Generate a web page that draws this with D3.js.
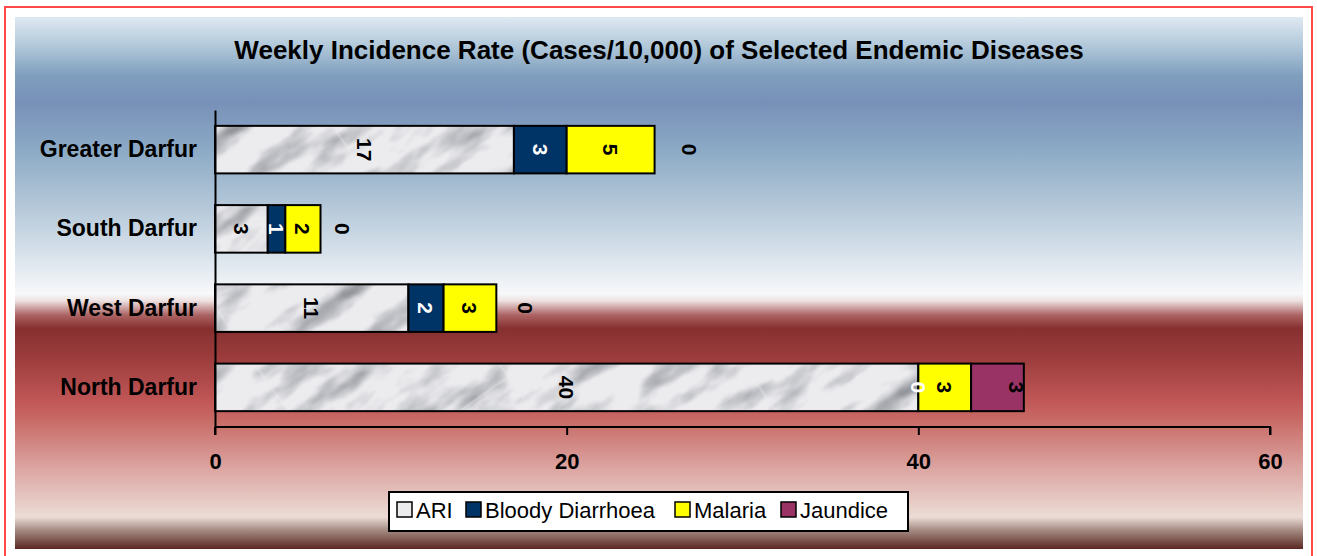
<!DOCTYPE html>
<html><head><meta charset="utf-8">
<script src="https://cdn.jsdelivr.net/npm/d3@7"></script>
<style>html,body{margin:0;padding:0;background:#fff;}svg{display:block;font-family:Arial,"Liberation Sans",sans-serif;}</style>
</head><body>
<svg id="chart" width="1317" height="556"></svg>
<script>
const categories = ["Greater Darfur", "South Darfur", "West Darfur", "North Darfur"];
const seriesNames = ["ARI", "Bloody Diarrhoea", "Malaria", "Jaundice"];
const ariValues = [17, 3, 11, 40];
const bloodyDiarrhoeaValues = [3, 1, 2, 0];
const malariaValues = [5, 2, 3, 3];
const jaundiceValues = [0, 0, 0, 3];
const xTicks = [0, 20, 40, 60];
const title = "Weekly Incidence Rate (Cases/10,000) of Selected Endemic Diseases";

const seriesColors = ["#ececef", "#003366", "#ffff00", "#993366"];
const labelColors = ["#000", "#fff", "#000", "#000"];
const allValues = [ariValues, bloodyDiarrhoeaValues, malariaValues, jaundiceValues];

const svg = d3.select("#chart");
const defs = svg.append("defs");

// background gradient
const grad = defs.append("linearGradient").attr("id","bg").attr("x1",0).attr("y1",0).attr("x2",0).attr("y2",1);
[[0,"#dfe9f2"],[0.053,"#b2c9da"],[0.11,"#7f9fbe"],[0.16,"#7890b8"],[0.25,"#8caac6"],[0.35,"#b2c6d8"],[0.44,"#d6e0ea"],[0.52,"#f7f8fa"],[0.533,"#eee2e2"],[0.56,"#ad6464"],[0.585,"#863030"],[0.64,"#9c3c3c"],[0.72,"#c05656"],[0.757,"#c86a66"],[0.85,"#dca6a2"],[0.94,"#ecdcd6"],[0.963,"#a89088"],[1,"#5a2820"]]
  .forEach(([o,c]) => grad.append("stop").attr("offset",o).attr("stop-color",c));

// marble texture: streaky noise in a rotated pattern tile
const f = defs.append("filter").attr("id","marbleF").attr("x",0).attr("y",0).attr("width",1).attr("height",1)
  .attr("color-interpolation-filters","sRGB");
f.append("feTurbulence").attr("type","fractalNoise").attr("baseFrequency","0.015 0.04").attr("numOctaves",4)
  .attr("seed",5).attr("stitchTiles","stitch").attr("result","noise");
f.append("feColorMatrix").attr("in","noise").attr("type","matrix")
  .attr("values","0 0 0 0 0.5  0 0 0 0 0.51  0 0 0 0 0.54  -2.0 0 0 0 1.08").attr("result","dark");
f.append("feGaussianBlur").attr("in","dark").attr("stdDeviation",0.8).attr("result","soft");
f.append("feComposite").attr("in","soft").attr("in2","SourceGraphic").attr("operator","in").attr("result","clipped");
const fm = f.append("feMerge");
fm.append("feMergeNode").attr("in","SourceGraphic");
fm.append("feMergeNode").attr("in","clipped");
const pat = defs.append("pattern").attr("id","marble").attr("patternUnits","userSpaceOnUse")
  .attr("width",200).attr("height",200).attr("patternTransform","rotate(-35)");
pat.append("rect").attr("width",200).attr("height",200).attr("fill",seriesColors[0]).attr("filter","url(#marbleF)");

// frame
svg.append("rect").attr("x",5).attr("y",7).attr("width",1307).attr("height",560)
  .attr("fill","#fff").attr("stroke","#ff4a4a").attr("stroke-width",2);
svg.append("rect").attr("x",15).attr("y",17).attr("width",1288).attr("height",532).attr("fill","url(#bg)");

svg.append("text").attr("x",659).attr("y",59).attr("text-anchor","middle")
  .attr("font-size",26).attr("font-weight","bold").attr("fill","#000").text(title);

const x = d3.scaleLinear().domain([0,60]).range([215,1270]);
const y = d3.scaleBand().domain(categories).range([110,427]).paddingInner(0.4).paddingOuter(0.2);

// stacked data
const rows = categories.map((c,i) => {
  const r = {cat:c}; seriesNames.forEach((s,k)=> r[s]=allValues[k][i]); return r;
});
const stacked = d3.stack().keys(seriesNames)(rows);

const g = svg.append("g");
stacked.forEach((layer,k) => {
  g.selectAll(null).data(layer.filter(d=>d[1]-d[0]>0)).enter().append("rect")
    .attr("x", d=>x(d[0])).attr("y", d=>y(d.data.cat))
    .attr("width", d=>x(d[1])-x(d[0])).attr("height", y.bandwidth())
    .attr("fill", k===0 ? "url(#marble)" : seriesColors[k])
    .attr("stroke","#000").attr("stroke-width",2);
});

// labels
stacked.forEach((layer,k) => {
  layer.forEach(d => {
    const v = d[1]-d[0];
    let lx;
    if (k === 3) lx = v>0 ? x(d[1]) - 7 : x(d[1]*1.04 + 1);
    else lx = x((d[0]+d[1])/2);
    const ly = y(d.data.cat) + y.bandwidth()/2;
    svg.append("text").attr("transform",`translate(${lx},${ly}) rotate(90)`)
      .attr("text-anchor","middle").attr("dy","0.36em")
      .attr("font-size",21).attr("font-weight","bold").attr("fill",labelColors[k]).text(v);
  });
});

// axes
const xAxis = svg.append("g").attr("transform","translate(0,427)")
  .call(d3.axisBottom(x).tickValues(xTicks).tickSize(8).tickPadding(18).tickFormat(d3.format("d")));
xAxis.select(".domain").attr("stroke","#000").attr("stroke-width",2).attr("d","M215,0H1270V8M215,0V8");
xAxis.selectAll(".tick line").attr("stroke","#000").attr("stroke-width",2);
xAxis.selectAll(".tick text").attr("font-size",22).attr("font-weight","bold").attr("fill","#000").attr("font-family","Arial, 'Liberation Sans', sans-serif");

const yAxis = svg.append("g").attr("transform","translate(215,0)")
  .call(d3.axisLeft(y).tickSize(0).tickPadding(18));
yAxis.select(".domain").attr("stroke","#000").attr("stroke-width",2);
yAxis.selectAll(".tick text").attr("font-size",23).attr("font-weight","bold").attr("fill","#000").attr("font-family","Arial, 'Liberation Sans', sans-serif");

// legend
const lg = svg.append("g");
lg.append("rect").attr("x",389).attr("y",492).attr("width",519).attr("height",39)
  .attr("fill","#fff").attr("stroke","#000").attr("stroke-width",2);
const legX = [397, 466, 675, 781];
seriesNames.forEach((s,k) => {
  lg.append("rect").attr("x",legX[k]).attr("y",502).attr("width",15).attr("height",15)
    .attr("fill",seriesColors[k]).attr("stroke","#000").attr("stroke-width",1.5);
  lg.append("text").attr("x",legX[k]+19).attr("y",518).attr("font-size",22).attr("fill","#000").text(s);
});
</script>
</body></html>
